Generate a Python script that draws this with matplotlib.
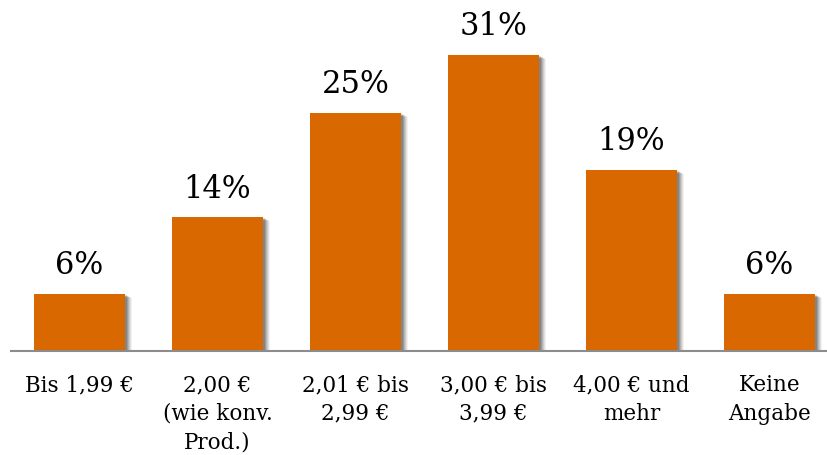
import matplotlib.pyplot as plt
import matplotlib.transforms as mtransforms

# Data
categories = [
    "Bis 1,99 €",
    "2,00 €\n(wie konv.\nProd.)",
    "2,01 € bis\n2,99 €",
    "3,00 € bis\n3,99 €",
    "4,00 € und\nmehr",
    "Keine\nAngabe",
]
values = [6, 14, 25, 31, 19, 6]
value_labels = ["6%", "14%", "25%", "31%", "19%", "6%"]

bar_color = "#DA6800"
plt.rcParams["font.family"] = ["DejaVu Serif"]

fig = plt.figure(figsize=(8.27, 4.56), dpi=100)
ax = fig.add_axes([10.5 / 827, (456 - 352) / 456, 828 / 827, 310 / 456])

x = list(range(len(values)))
width = 0.66

# soft drop shadow
for dx, dy, a in [(7, -4, 0.05), (6, -3, 0.07), (5, -3, 0.09), (4, -2, 0.11), (3, -2, 0.13), (2, -1, 0.15)]:
    offset = mtransforms.offset_copy(ax.transData, fig=fig, x=dx, y=dy, units="dots")
    ax.bar(x, values, width=width, color="black", alpha=a, transform=offset, zorder=1)

bars = ax.bar(x, values, width=width, color=bar_color, zorder=2)

for xi, v, lab in zip(x, values, value_labels):
    ax.annotate(lab, (xi, v), xytext=(0, 10), textcoords="offset points",
                ha="center", va="bottom", fontsize=22, color="black")

ax.set_xlim(-0.5, 5.5)
ax.set_ylim(0, 32.5)
ax.set_xticks(x)
ax.set_xticklabels(categories, fontsize=15.5, linespacing=1.38, va="top")
ax.tick_params(axis="x", length=0, pad=16)
ax.set_yticks([])
for s in ["top", "right", "left"]:
    ax.spines[s].set_visible(False)
ax.spines["bottom"].set_color("#8c8c8c")
ax.spines["bottom"].set_linewidth(1.5)

plt.savefig("out.png", dpi=100)
